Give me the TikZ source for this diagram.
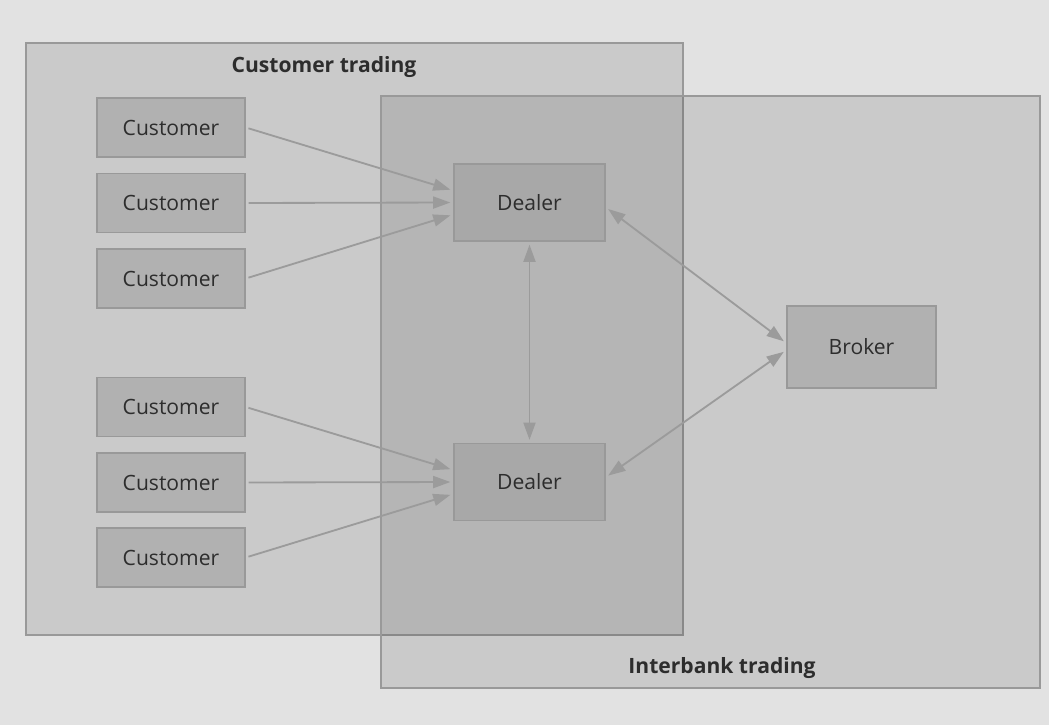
\documentclass[tikz,border=0pt]{standalone}
\usepackage{fontspec}
\setmainfont{Open Sans}
\usepackage{tikz}
\usetikzlibrary{arrows.meta,positioning}
\definecolor{pagefill}{RGB}{226,226,226}
\definecolor{zoneline}{RGB}{153,153,153}
\definecolor{partyfill}{RGB}{177,177,177}
\definecolor{linkgray}{RGB}{155,155,155}
\definecolor{textgray}{RGB}{45,45,45}
\tikzset{
  zone/.style ={draw=zoneline, line width=1.1pt, fill=black, fill opacity=0.1, draw opacity=1,
                inner sep=0pt, outer sep=0pt, minimum height=14.8cm},
  zlbl/.style ={font=\fontsize{15}{18}\selectfont\bfseries, text=textgray, inner sep=0pt},
  party/.style={draw=zoneline, line width=1.1pt, fill=partyfill, text=textgray, inner sep=0pt,
                font=\fontsize{15}{18}\selectfont, minimum width=3.7cm, minimum height=1.48cm},
  link/.style ={draw=linkgray, line width=1.3pt, shorten >=2pt, shorten <=2pt,
                -{Triangle[length=4.3mm, width=3mm]}},
  duplex/.style={link, {Triangle[length=4.3mm, width=3mm]}-{Triangle[length=4.3mm, width=3mm]}}
}

\begin{document}
\begin{tikzpicture}
  \fill[pagefill] (0,0) rectangle (26.225,-18.125);
  \node[zone, minimum width=16.425cm] (custzone) at (8.8625,-8.475) {};
  \node[zone, minimum width=16.475cm] (bankzone) at (17.7625,-9.8) {};
  \node[zlbl] (custlbl) at (8.1,-1.675) {Customer trading};
  \node[zlbl] (banklbl) at (18.05,-16.7) {Interbank trading};
  \node[party] (c1) at (4.275,-3.1875) {Customer};
  \node[party] (c2) at (4.275,-5.075) {Customer};
  \node[party] (c3) at (4.275,-6.9625) {Customer};
  \node[party] (c4) at (4.275,-10.175) {Customer};
  \node[party] (c5) at (4.275,-12.0625) {Customer};
  \node[party] (c6) at (4.275,-13.9375) {Customer};
  \node[party, minimum width=3.78cm, minimum height=1.93cm, fill=partyfill!95!black] (d1) at (13.2375,-5.0625) {Dealer};
  \node[party, minimum width=3.78cm, minimum height=1.93cm, fill=partyfill!95!black] (d2) at (13.2375,-12.05) {Dealer};
  \node[party, minimum width=3.73cm, minimum height=2.05cm] (broker) at (21.5375,-8.675) {Broker};
  \draw[link] (c1.east) -- ([yshift=0.3cm]d1.west);
  \draw[link] (c2.east) -- (d1.west);
  \draw[link] (c3.east) -- ([yshift=-0.3cm]d1.west);
  \draw[link] (c4.east) -- ([yshift=0.3cm]d2.west);
  \draw[link] (c5.east) -- (d2.west);
  \draw[link] (c6.east) -- ([yshift=-0.3cm]d2.west);
  \draw[duplex] (d1.south) -- (d2.north);
  \draw[duplex] ([yshift=-0.12cm]d1.east) -- ([yshift=0.1cm]broker.west);
  \draw[duplex] ([yshift=0.12cm]d2.east) -- ([yshift=-0.08cm]broker.west);
\end{tikzpicture}
\end{document}
